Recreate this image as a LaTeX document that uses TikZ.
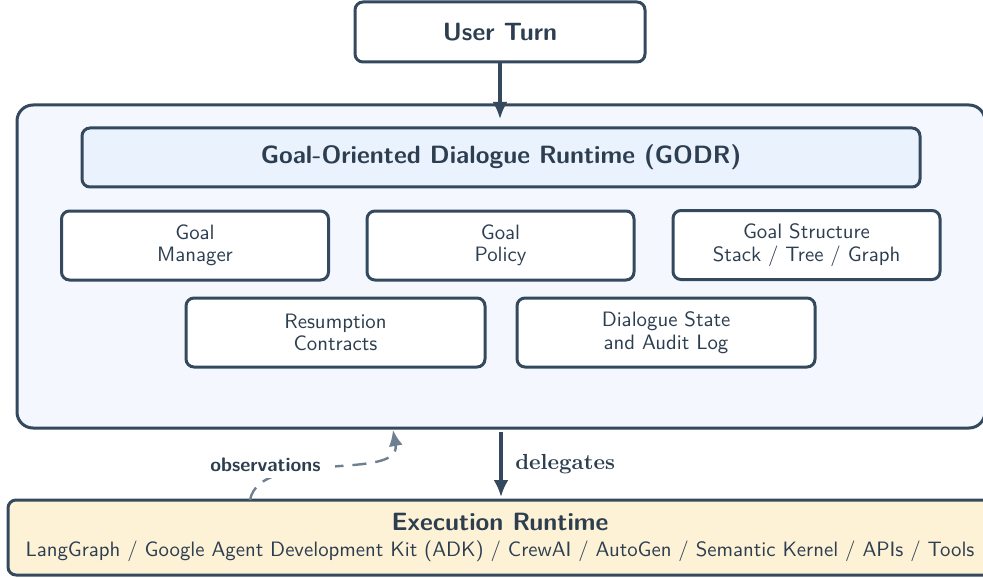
\documentclass[tikz,border=0pt]{standalone}
\usetikzlibrary{arrows.meta}
\renewcommand{\familydefault}{\sfdefault}
\definecolor{ink}{HTML}{34495E}
\definecolor{txt}{HTML}{2C3E50}
\definecolor{outerfill}{HTML}{F4F8FE}
\definecolor{titlefill}{HTML}{EAF2FD}
\definecolor{execfill}{HTML}{FDF2D5}
\definecolor{obsline}{HTML}{6E7F91}
\begin{document}
\begin{tikzpicture}[x=0.5pt,y=-0.5pt,
  box/.style={draw=ink, line width=1.5pt, rounded corners=4pt, text=txt, align=center, inner sep=0pt},
  comp/.style={box, fill=white, minimum height=34.5pt, font=\fontsize{10.4}{11.2}\selectfont},
  ttl/.style={font=\fontsize{12.5}{15}\selectfont\bfseries},
  arr/.style={draw=ink, line width=1.6pt, -{Latex[length=8.5pt,width=7.5pt]}},
]
\useasboundingbox (0,0) rectangle (983,577);
% outer container
\node[box, fill=outerfill, rounded corners=8pt, minimum width=484pt, minimum height=161.5pt] (outer) at (501,266.5) {};
% user turn
\node[box, fill=white, minimum width=145pt, minimum height=30pt, ttl] (user) at (500,32) {User Turn};
% title
\node[box, fill=titlefill, minimum width=419pt, minimum height=29.5pt, ttl] (godr) at (501,157.5) {Goal-Oriented Dialogue Runtime (GODR)};
% components
\node[comp, minimum width=133.5pt] (gm) at (195,245.5) {Goal\\Manager};
\node[comp, minimum width=133.5pt] (gp) at (500.5,245.5) {Goal\\Policy};
\node[comp, minimum width=133.5pt] (gs) at (806.5,245) {Goal Structure\\Stack / Tree / Graph};
\node[comp, minimum width=149.5pt] (rc) at (335.5,332.5) {Resumption\\Contracts};
\node[comp, minimum width=149pt] (ds) at (666,332.5) {Dialogue State\\and Audit Log};
% execution runtime
\node[box, fill=execfill, minimum width=492pt, minimum height=37.5pt, font=\fontsize{10.4}{12}\selectfont] (exec) at (500,537.5) {{\fontsize{12.5}{15}\selectfont\bfseries Execution Runtime}\\[1pt]LangGraph / Google Agent Development Kit (ADK) / CrewAI / AutoGen / Semantic Kernel / APIs / Tools};
% arrows
\draw[arr] (user.south) -- (500,119) coordinate (uin);
\coordinate (dstart) at (501,432);
\coordinate (dend) at (501,497);
\draw[arr] (dstart) -- (dend) node[midway, right=3pt, text=txt, font=\rmfamily\bfseries\fontsize{10.9}{13}\selectfont] (dlab) {delegates};
\coordinate (obsstart) at (250,500);
\coordinate (obsend) at (393,430);
\draw[obsline, line width=1.2pt, dash pattern=on 7pt off 4.5pt, -{Latex[length=8pt,width=7pt]}] (obsstart) .. controls (260,448) and (402,482) .. (obsend);
\node[fill=white, inner xsep=7pt, inner ysep=3pt, text=txt, font=\bfseries\fontsize{9.8}{12}\selectfont] (obs) at (265.5,465) {observations};
\end{tikzpicture}
\end{document}
